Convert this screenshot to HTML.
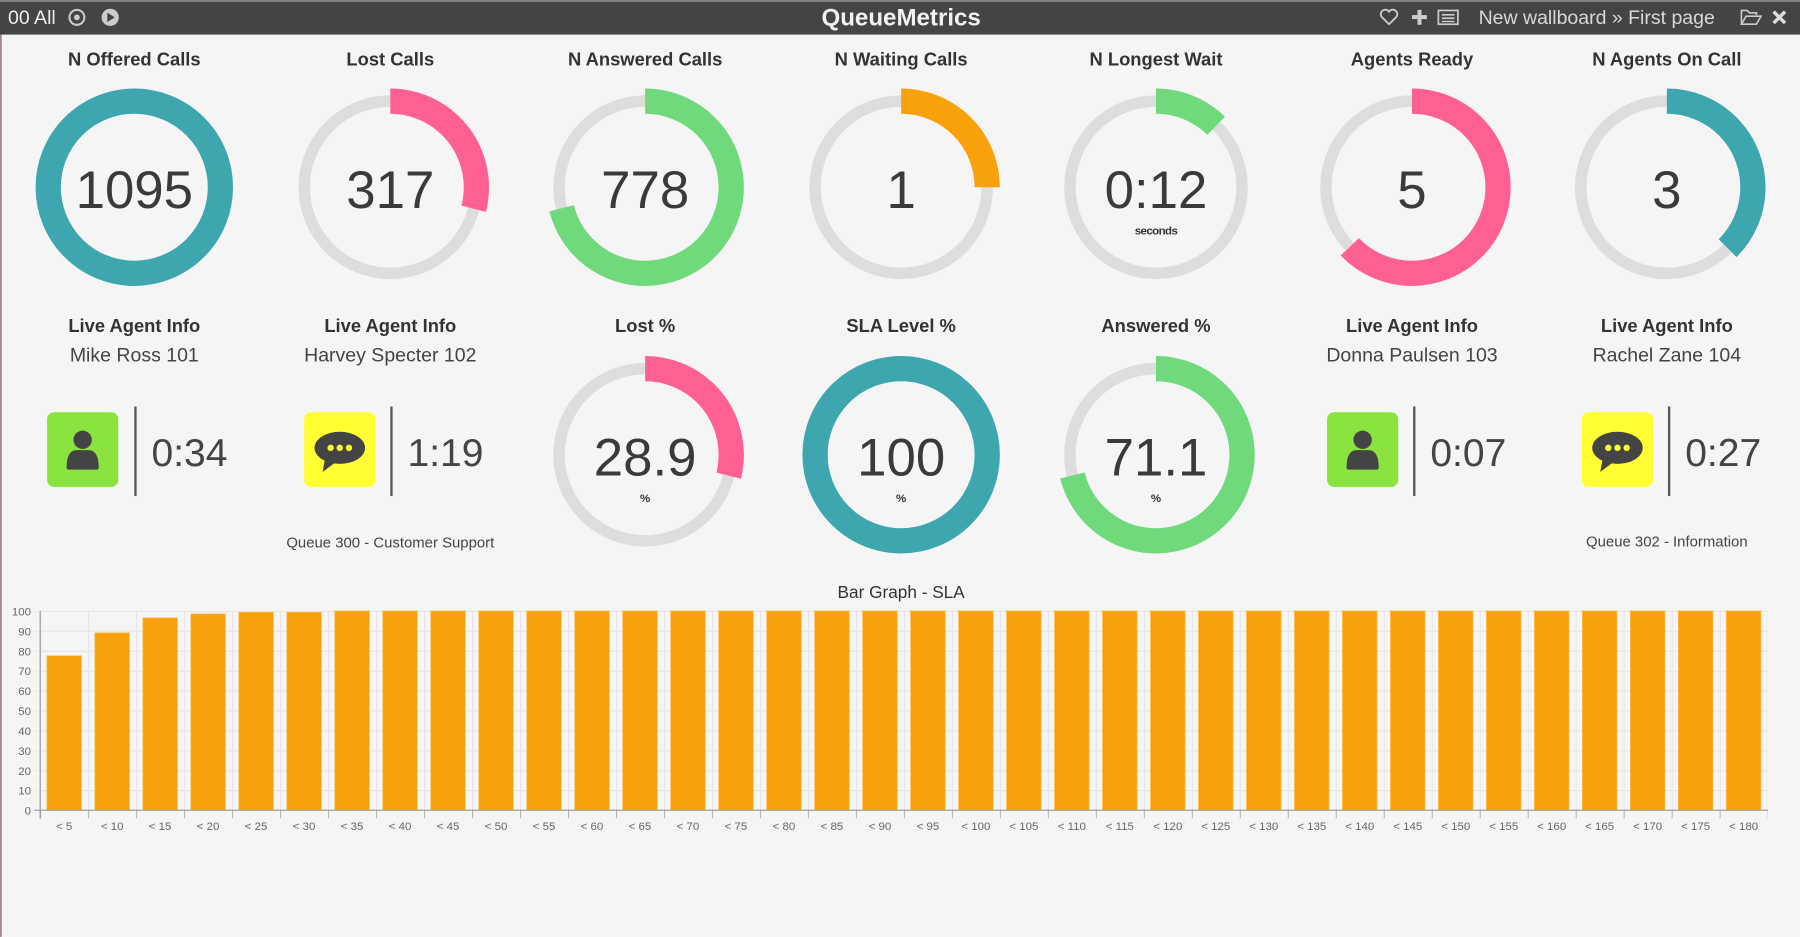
<!DOCTYPE html>
<html><head><meta charset="utf-8"><style>
html,body{margin:0;padding:0;background:#f5f5f5;overflow:hidden}
svg{display:block}
text{font-family:"Liberation Sans",sans-serif}
</style></head><body>
<svg width="1800" height="937" viewBox="0 0 1568 816" xmlns="http://www.w3.org/2000/svg">
<defs>
<pattern id="vg" x="35" y="0" width="41.8" height="10" patternUnits="userSpaceOnUse"><rect x="0" y="0" width="0.8" height="10" fill="#e2e2e2"/></pattern>
<pattern id="hg" x="0" y="532" width="10" height="17.36" patternUnits="userSpaceOnUse"><rect x="0" y="0" width="10" height="0.8" fill="#e2e2e2"/></pattern>
<pattern id="tk" x="35" y="0" width="41.8" height="10" patternUnits="userSpaceOnUse"><rect x="0" y="0" width="0.8" height="10" fill="#aaa"/></pattern>
</defs>
<rect width="1568" height="816" fill="#f5f5f5"/>
<rect x="0" y="0" width="1.5" height="816" fill="#9a8490"/>
<!-- top bar -->
<rect x="0" y="0" width="1568" height="30" fill="#444"/>
<rect x="0" y="0" width="1568" height="1.5" fill="#888"/>
<text x="7" y="21" font-size="17" fill="#eee">00 All</text>
<circle cx="67" cy="15" r="6.5" fill="none" stroke="#ccc" stroke-width="1.8"/><circle cx="67" cy="15" r="2.5" fill="#ccc"/>
<circle cx="96" cy="15" r="7.5" fill="#ccc"/><path d="M93.5 11 L100 15 L93.5 19Z" fill="#444"/>
<text x="785" y="22" font-size="21" font-weight="bold" fill="#f2f2f2" text-anchor="middle">QueueMetrics</text>
<path d="M1210 21 L1203.5 14.5 A3.5 3.5 0 0 1 1210 10 A3.5 3.5 0 0 1 1216.5 14.5Z" fill="none" stroke="#ccc" stroke-width="1.6"/>
<rect x="1230" y="13" width="13" height="3.5" fill="#ccc"/><rect x="1234.8" y="8.5" width="3.5" height="13" fill="#ccc"/>
<rect x="1253" y="9" width="17" height="12" fill="none" stroke="#ccc" stroke-width="1.5"/><rect x="1256" y="12" width="11" height="1.5" fill="#ccc"/><rect x="1256" y="15" width="11" height="1.5" fill="#ccc"/><rect x="1256" y="18" width="11" height="1.2" fill="#ccc"/>
<text x="1288" y="21" font-size="17" fill="#d8d8d8">New wallboard » First page</text>
<path d="M1517 21 L1517 9 L1522 9 L1524 11 L1530 11 L1530 13 M1517 21 L1521 14 L1534 14 L1530 21Z" fill="none" stroke="#ccc" stroke-width="1.4"/>
<path d="M1545 10 L1555 20 M1555 10 L1545 20" stroke="#ddd" stroke-width="3"/>

<g font-size="16" fill="#333" text-anchor="middle" font-weight="bold">
<text x="117" y="57">N Offered Calls</text>
<text x="340" y="57">Lost Calls</text>
<text x="562" y="57">N Answered Calls</text>
<text x="785" y="57">N Waiting Calls</text>
<text x="1007" y="57">N Longest Wait</text>
<text x="1230" y="57">Agents Ready</text>
<text x="1452" y="57">N Agents On Call</text>
<text x="117" y="289">Live Agent Info</text>
<text x="340" y="289">Live Agent Info</text>
<text x="562" y="289">Lost %</text>
<text x="785" y="289">SLA Level %</text>
<text x="1007" y="289">Answered %</text>
<text x="1230" y="289">Live Agent Info</text>
<text x="1452" y="289">Live Agent Info</text>
</g>
<g font-size="17" fill="#444" text-anchor="middle">
<text x="117" y="315">Mike Ross 101</text>
<text x="340" y="315">Harvey Specter 102</text>
<text x="1230" y="315">Donna Paulsen 103</text>
<text x="1452" y="315">Rachel Zane 104</text>
</g>

<!-- gauges: grey ring r=75 width 10; colored width 22; circumference 471.24 -->
<g fill="none">
<g transform="translate(117,163) rotate(-90)"><circle r="75" stroke="#3ea6ae" stroke-width="22"/></g>
<g transform="translate(340,163) rotate(-90)"><circle r="75" stroke="#dddddd" stroke-width="10"/><circle r="75" stroke="#ff6092" stroke-width="22" stroke-dasharray="136.7 500"/></g>
<g transform="translate(562,163) rotate(-90)"><circle r="75" stroke="#dddddd" stroke-width="10"/><circle r="75" stroke="#6fd97c" stroke-width="22" stroke-dasharray="334.8 500"/></g>
<g transform="translate(785,163) rotate(-90)"><circle r="75" stroke="#dddddd" stroke-width="10"/><circle r="75" stroke="#f9a10b" stroke-width="22" stroke-dasharray="117.8 500"/></g>
<g transform="translate(1007,163) rotate(-90)"><circle r="75" stroke="#dddddd" stroke-width="10"/><circle r="75" stroke="#6fd97c" stroke-width="22" stroke-dasharray="58 500"/></g>
<g transform="translate(1230,163) rotate(-90)"><circle r="75" stroke="#dddddd" stroke-width="10"/><circle r="75" stroke="#ff6092" stroke-width="22" stroke-dasharray="296 500"/></g>
<g transform="translate(1452,163) rotate(-90)"><circle r="75" stroke="#dddddd" stroke-width="10"/><circle r="75" stroke="#3ea6ae" stroke-width="22" stroke-dasharray="176.7 500"/></g>
<g transform="translate(562,396) rotate(-90)"><circle r="75" stroke="#dddddd" stroke-width="10"/><circle r="75" stroke="#ff6092" stroke-width="22" stroke-dasharray="136.2 500"/></g>
<g transform="translate(785,396) rotate(-90)"><circle r="75" stroke="#3ea6ae" stroke-width="22"/></g>
<g transform="translate(1007,396) rotate(-90)"><circle r="75" stroke="#dddddd" stroke-width="10"/><circle r="75" stroke="#6fd97c" stroke-width="22" stroke-dasharray="335 500"/></g>
</g>
<g font-size="46" fill="#3a3a3a" text-anchor="middle">
<text x="117" y="181">1095</text>
<text x="340" y="181">317</text>
<text x="562" y="181">778</text>
<text x="785" y="181">1</text>
<text x="1007" y="181">0:12</text>
<text x="1230" y="181">5</text>
<text x="1452" y="181">3</text>
<text x="562" y="414">28.9</text>
<text x="785" y="414">100</text>
<text x="1007" y="414">71.1</text>
</g>
<g font-size="10" font-weight="bold" fill="#333" text-anchor="middle">
<text x="1007" y="204" letter-spacing="-0.5">seconds</text>
<text x="562" y="437">%</text>
<text x="785" y="437">%</text>
<text x="1007" y="437">%</text>
</g>

<!-- agent boxes -->
<g>
<rect x="41" y="359" width="62" height="65" rx="6" fill="#8be33f"/>
<circle cx="72" cy="383" r="8" fill="#444"/><path d="M58 407 Q58 393 66 392 L78 392 Q86 393 86 407 Q86 409 84 409 L60 409 Q58 409 58 407Z" fill="#444"/>
<rect x="117" y="354" width="2" height="78" fill="#555"/>
<text x="132" y="406" font-size="34" fill="#444">0:34</text>

<rect x="265" y="359" width="62" height="65" rx="6" fill="#ffff33"/>
<ellipse cx="296" cy="390" rx="22" ry="14" fill="#444"/><path d="M283 400 L281 411 L293 402Z" fill="#444"/>
<circle cx="288" cy="390" r="2.8" fill="#ffff33"/><circle cx="296" cy="390" r="2.8" fill="#ffff33"/><circle cx="304" cy="390" r="2.8" fill="#ffff33"/>
<rect x="340" y="354" width="2" height="78" fill="#555"/>
<text x="355" y="406" font-size="34" fill="#444">1:19</text>

<rect x="1156" y="359" width="62" height="65" rx="6" fill="#8be33f"/>
<circle cx="1187" cy="383" r="8" fill="#444"/><path d="M1173 407 Q1173 393 1181 392 L1193 392 Q1201 393 1201 407 Q1201 409 1199 409 L1175 409 Q1173 409 1173 407Z" fill="#444"/>
<rect x="1231" y="354" width="2" height="78" fill="#555"/>
<text x="1246" y="406" font-size="34" fill="#444">0:07</text>

<rect x="1378" y="359" width="62" height="65" rx="6" fill="#ffff33"/>
<ellipse cx="1409" cy="390" rx="22" ry="14" fill="#444"/><path d="M1396 400 L1394 411 L1406 402Z" fill="#444"/>
<circle cx="1401" cy="390" r="2.8" fill="#ffff33"/><circle cx="1409" cy="390" r="2.8" fill="#ffff33"/><circle cx="1417" cy="390" r="2.8" fill="#ffff33"/>
<rect x="1453" y="354" width="2" height="78" fill="#555"/>
<text x="1468" y="406" font-size="34" fill="#444">0:27</text>
</g>
<g font-size="13" fill="#444" text-anchor="middle">
<text x="340" y="477">Queue 300 - Customer Support</text>
<text x="1452" y="476">Queue 302 - Information</text>
</g>
<text x="785" y="521" font-size="15" fill="#333" text-anchor="middle">Bar Graph - SLA</text>

<!-- chart -->
<rect x="35" y="532" width="1505" height="174" fill="url(#vg)"/>
<rect x="35" y="532" width="1505" height="174" fill="url(#hg)"/>
<rect x="35" y="705.6" width="1505" height="7" fill="url(#tk)"/>
<rect x="30" y="532" width="5" height="174" fill="url(#hg)" opacity="0.8"/>
<g fill="#f9a10b" stroke="#fbbf55" stroke-width="0.6">
<rect x="40.8" y="571.1" width="30.2" height="134.5"/>
<rect x="82.6" y="551.1" width="30.2" height="154.5"/>
<rect x="124.4" y="538.1" width="30.2" height="167.5"/>
<rect x="166.2" y="534.6" width="30.2" height="171"/>
<rect x="208.0" y="533.2" width="30.2" height="172.4"/>
<rect x="249.8" y="533.2" width="30.2" height="172.4"/>
<rect x="291.6" y="532" width="30.2" height="173.6"/>
<rect x="333.4" y="532" width="30.2" height="173.6"/>
<rect x="375.2" y="532" width="30.2" height="173.6"/>
<rect x="417.0" y="532" width="30.2" height="173.6"/>
<rect x="458.8" y="532" width="30.2" height="173.6"/>
<rect x="500.6" y="532" width="30.2" height="173.6"/>
<rect x="542.4" y="532" width="30.2" height="173.6"/>
<rect x="584.2" y="532" width="30.2" height="173.6"/>
<rect x="626.0" y="532" width="30.2" height="173.6"/>
<rect x="667.8" y="532" width="30.2" height="173.6"/>
<rect x="709.6" y="532" width="30.2" height="173.6"/>
<rect x="751.4" y="532" width="30.2" height="173.6"/>
<rect x="793.2" y="532" width="30.2" height="173.6"/>
<rect x="835.0" y="532" width="30.2" height="173.6"/>
<rect x="876.8" y="532" width="30.2" height="173.6"/>
<rect x="918.6" y="532" width="30.2" height="173.6"/>
<rect x="960.4" y="532" width="30.2" height="173.6"/>
<rect x="1002.2" y="532" width="30.2" height="173.6"/>
<rect x="1044.0" y="532" width="30.2" height="173.6"/>
<rect x="1085.8" y="532" width="30.2" height="173.6"/>
<rect x="1127.6" y="532" width="30.2" height="173.6"/>
<rect x="1169.4" y="532" width="30.2" height="173.6"/>
<rect x="1211.2" y="532" width="30.2" height="173.6"/>
<rect x="1253.0" y="532" width="30.2" height="173.6"/>
<rect x="1294.8" y="532" width="30.2" height="173.6"/>
<rect x="1336.6" y="532" width="30.2" height="173.6"/>
<rect x="1378.4" y="532" width="30.2" height="173.6"/>
<rect x="1420.2" y="532" width="30.2" height="173.6"/>
<rect x="1462.0" y="532" width="30.2" height="173.6"/>
<rect x="1503.8" y="532" width="30.2" height="173.6"/>
</g>
<rect x="34.5" y="532" width="1" height="181" fill="#999"/>
<rect x="30" y="705.2" width="1510" height="1" fill="#999"/>
<g font-size="10" fill="#666" text-anchor="end">
<text x="27" y="536">100</text><text x="27" y="553.4">90</text><text x="27" y="570.7">80</text><text x="27" y="588.1">70</text><text x="27" y="605.4">60</text><text x="27" y="622.8">50</text><text x="27" y="640.2">40</text><text x="27" y="657.5">30</text><text x="27" y="674.9">20</text><text x="27" y="692.2">10</text><text x="27" y="709.6">0</text>
</g>
<g font-size="10" fill="#666" text-anchor="middle">
<text x="55.9" y="723">&lt; 5</text><text x="97.7" y="723">&lt; 10</text><text x="139.5" y="723">&lt; 15</text><text x="181.3" y="723">&lt; 20</text><text x="223.1" y="723">&lt; 25</text><text x="264.9" y="723">&lt; 30</text><text x="306.7" y="723">&lt; 35</text><text x="348.5" y="723">&lt; 40</text><text x="390.3" y="723">&lt; 45</text><text x="432.1" y="723">&lt; 50</text><text x="473.9" y="723">&lt; 55</text><text x="515.7" y="723">&lt; 60</text><text x="557.5" y="723">&lt; 65</text><text x="599.3" y="723">&lt; 70</text><text x="641.1" y="723">&lt; 75</text><text x="682.9" y="723">&lt; 80</text><text x="724.7" y="723">&lt; 85</text><text x="766.5" y="723">&lt; 90</text><text x="808.3" y="723">&lt; 95</text><text x="850.1" y="723">&lt; 100</text><text x="891.9" y="723">&lt; 105</text><text x="933.7" y="723">&lt; 110</text><text x="975.5" y="723">&lt; 115</text><text x="1017.3" y="723">&lt; 120</text><text x="1059.1" y="723">&lt; 125</text><text x="1100.9" y="723">&lt; 130</text><text x="1142.7" y="723">&lt; 135</text><text x="1184.5" y="723">&lt; 140</text><text x="1226.3" y="723">&lt; 145</text><text x="1268.1" y="723">&lt; 150</text><text x="1309.9" y="723">&lt; 155</text><text x="1351.7" y="723">&lt; 160</text><text x="1393.5" y="723">&lt; 165</text><text x="1435.3" y="723">&lt; 170</text><text x="1477.1" y="723">&lt; 175</text><text x="1518.9" y="723">&lt; 180</text>
</g>
</svg>
</body></html>
